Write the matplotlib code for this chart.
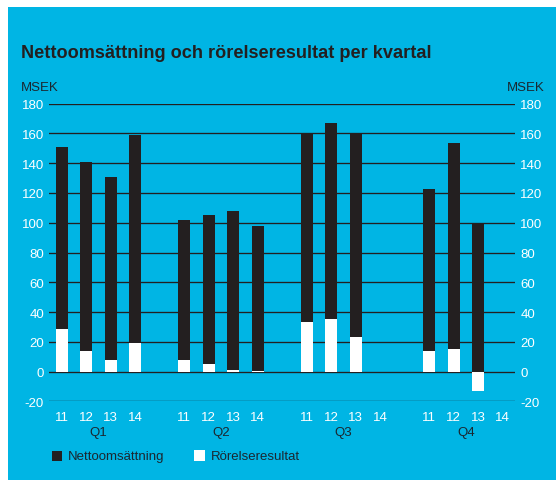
import matplotlib
matplotlib.use("Agg")
import matplotlib.pyplot as plt
from matplotlib.patches import Rectangle
import numpy as np

plt.rcParams['font.family'] = ['Liberation Sans', 'DejaVu Sans']

quarters = ["Q1", "Q2", "Q3", "Q4"]
years = ["11", "12", "13", "14"]
# Nettoomsättning per quarter, years 11..14 (None = no data)
net_sales = {
    "Q1": [151, 141, 130.5, 159],
    "Q2": [102, 105, 108, 98],
    "Q3": [160, 167, 160, None],
    "Q4": [123, 153.5, 100, None],
}
# Rörelseresultat
op_result = {
    "Q1": [28.5, 14, 7.5, 19],
    "Q2": [8, 5, 1, 0.3],
    "Q3": [33, 35, 23, None],
    "Q4": [13.5, 15, -13, None],
}
yticks = list(range(-20, 181, 20))

BLUE = "#00B5E4"
DARK = "#231F20"
TXT = "#1b2730"

fig = plt.figure(figsize=(5.56, 4.81), dpi=100)
fig.patch.set_facecolor("white")
fig.patches.append(Rectangle((8/556, 0), 1, 1 - 8/481, transform=fig.transFigure,
                             facecolor=BLUE, edgecolor="none", zorder=-10))

ax = fig.add_axes([49.3/556, 1 - 402.3/481, (515 - 49.3)/556, (402.3 - 104.7)/481])
ax.set_facecolor("none")

group_gap = 5
xs, ns, rs, xlabels = [], [], [], []
for qi, q in enumerate(quarters):
    for yi, y in enumerate(years):
        x = qi * group_gap + yi
        xs.append(x)
        xlabels.append(y)
        ns.append(net_sales[q][yi])
        rs.append(op_result[q][yi])

bw = 0.49
for x, n, r in zip(xs, ns, rs):
    if n is not None:
        ax.bar(x, n, width=bw, color=DARK, zorder=3, linewidth=0)
    if r is not None:
        ax.bar(x, r, width=bw, color="white", zorder=4, linewidth=0)

ax.set_xlim(-0.5, 18.5)
ax.set_ylim(-20, 180)
ax.set_yticks(yticks)
ax.set_yticklabels([str(t) for t in yticks])
for t in yticks:
    ax.axhline(t, color=DARK, linewidth=0.95, zorder=2)

for s in ax.spines.values():
    s.set_visible(False)

ax.tick_params(axis="y", length=0, labelsize=9.5, labelcolor="white", pad=3.8,
               left=True, right=True, labelleft=True, labelright=True)

ax.set_xticks(xs)
ax.set_xticklabels(xlabels)
ax.tick_params(axis="x", length=0, labelsize=9.5, labelcolor="white", pad=7)

for qi, q in enumerate(quarters):
    ax.text(qi * group_gap + 1.5, -0.102, q, transform=ax.get_xaxis_transform(),
            ha="center", va="center", fontsize=9.5, color=TXT)

fig.text(21/556, 1 - 57.7/481, "Nettoomsättning och rörelseresultat per kvartal",
         fontsize=13.1, fontweight="bold", color=DARK, ha="left", va="baseline")
fig.text(21/556, 1 - 91/481, "MSEK", fontsize=9.5, color=TXT, ha="left", va="baseline")
fig.text(545/556, 1 - 91/481, "MSEK", fontsize=9.5, color=TXT, ha="right", va="baseline")

# legend
fig.patches.append(Rectangle((52/556, 1 - 462/481), 10/556, 10/481, transform=fig.transFigure,
                             facecolor=DARK, edgecolor="none"))
fig.text(68/556, 1 - 457/481, "Nettoomsättning", fontsize=9.5, color=TXT, ha="left", va="center")
fig.patches.append(Rectangle((194/556, 1 - 462/481), 11/556, 11/481, transform=fig.transFigure,
                             facecolor="white", edgecolor="none"))
fig.text(210.7/556, 1 - 457/481, "Rörelseresultat", fontsize=9.5, color=TXT, ha="left", va="center")

fig.savefig("out.png", dpi=100, facecolor=fig.get_facecolor())
